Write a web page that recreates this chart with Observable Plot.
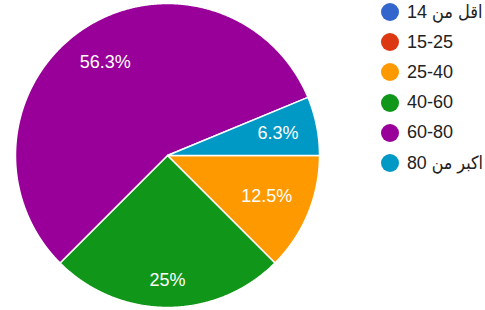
<!DOCTYPE html>
<html><head><meta charset="utf-8">
<script src="https://cdn.jsdelivr.net/npm/d3@7"></script>
<script src="https://cdn.jsdelivr.net/npm/@observablehq/plot@0.6"></script>
<style>
html,body{margin:0;padding:0;background:#fff;}
#wrap{position:relative;width:485px;height:310px;overflow:hidden;font-family:"Liberation Sans",Arial,"DejaVu Sans",sans-serif;}
#chart svg{display:block;}
#legend{position:absolute;left:381px;top:-3px;}
.item{display:flex;align-items:center;height:30.2px;}
.sw{width:18px;height:18px;border-radius:50%;margin-right:8px;flex:none;}
.lab{font-size:18px;color:#222;unicode-bidi:isolate;white-space:nowrap;font-family:"Liberation Sans","DejaVu Sans Condensed","DejaVu Sans",sans-serif;}
</style></head><body><div id="wrap"><div id="chart"></div><div id="legend"></div></div>
<script>
const categories = ["اقل من 14", "15-25", "25-40", "40-60", "60-80", "اكبر من 80"];
const values = [0, 0, 2, 4, 9, 1];
const colors = ["#3366cc", "#dc3912", "#ff9900", "#109618", "#990099", "#0099c6"];

const R = 152;            // pie radius in px
const FONT = 18;
const total = d3.sum(values);
const pctText = v => { let s = (v / total * 100).toFixed(1); if (s.endsWith(".0")) s = s.slice(0, -2); return s + "%"; };

const arcs = d3.pie().value((d, i) => values[i]).sort(null)
  .startAngle(Math.PI / 2).endAngle(Math.PI / 2 + 2 * Math.PI)(categories);

// slice outlines (unit circle coordinates)
const pts = [];
for (const a of arcs) {
  if (a.value <= 0) continue;
  const n = Math.max(2, Math.ceil((a.endAngle - a.startAngle) / 0.005));
  pts.push({cat: a.data, x: 0, y: 0});
  for (let k = 0; k <= n; k++) {
    const t = a.startAngle + (a.endAngle - a.startAngle) * k / n;
    pts.push({cat: a.data, x: Math.sin(t), y: Math.cos(t)});
  }
  pts.push({cat: a.data, x: 0, y: 0});
}

// label placement: far corner of label box at ~0.885 R
const ctx = document.createElement("canvas").getContext("2d");
ctx.font = `${FONT}px "Liberation Sans", Arial, sans-serif`;
const R0 = 0.885 * R;
const labels = arcs.filter(a => a.value > 0).map(a => {
  const text = pctText(a.value);
  const w = ctx.measureText(text).width, h = FONT;
  const mid = (a.startAngle + a.endAngle) / 2;
  const c = Math.sin(mid), s = Math.cos(mid);
  const ax = Math.abs(c) < 1e-6 ? w / 2 : Math.sign(c) * w / 2;
  const by = Math.abs(s) < 1e-6 ? 0 : Math.sign(s) * h / 2;
  const p = (Math.abs(c) < 1e-6 ? 0 : c * ax) + s * by;
  const d = -p + Math.sqrt(p * p - (ax * ax + by * by - R0 * R0));
  return {text, x: d * c / R, y: d * s / R};
});

const chart = Plot.plot({
  width: 485, height: 310, margin: 0,
  x: {domain: [-1, 1], range: [167 - R, 167 + R], axis: null},
  y: {domain: [-1, 1], range: [155 + R, 155 - R], axis: null},
  color: {domain: categories, range: colors},
  style: {fontFamily: '"Liberation Sans", Arial, sans-serif', background: "#fff"},
  marks: [
    Plot.line(pts, {x: "x", y: "y", z: "cat", fill: "cat", stroke: "#fff", strokeWidth: 1.5, curve: "linear", strokeLinejoin: "round"}),
    Plot.text(labels, {x: "x", y: "y", text: "text", fill: "#fff", fontSize: FONT})
  ]
});
document.getElementById("chart").appendChild(chart);

const leg = document.getElementById("legend");
categories.forEach((c, i) => {
  const it = document.createElement("div"); it.className = "item";
  const sw = document.createElement("div"); sw.className = "sw"; sw.style.background = colors[i];
  const lb = document.createElement("span"); lb.className = "lab"; lb.dir = "rtl"; lb.textContent = c;
  it.appendChild(sw); it.appendChild(lb); leg.appendChild(it);
  // keep long labels inside the frame
  const maxW = 485 - 407 - 2;
  const wdt = lb.getBoundingClientRect().width;
  if (wdt > maxW) { lb.style.display = "inline-block"; lb.style.transformOrigin = "left center"; lb.style.transform = `scaleX(${maxW / wdt})`; }
});
</script></body></html>
